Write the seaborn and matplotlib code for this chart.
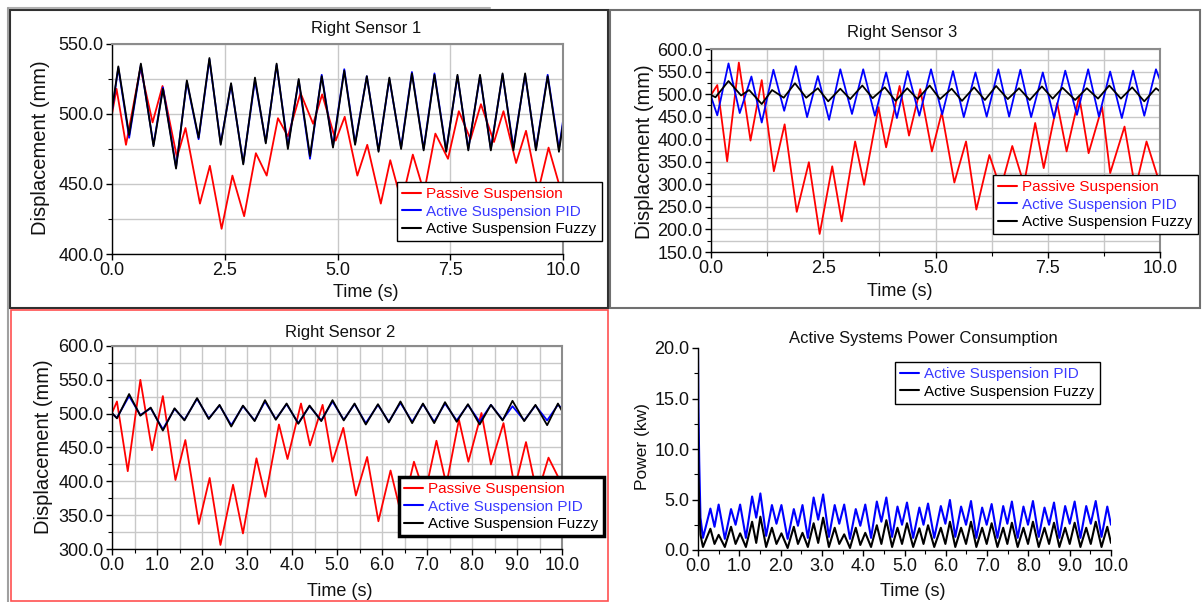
import numpy as np
import pandas as pd
import matplotlib
matplotlib.use("Agg")
import matplotlib.pyplot as plt
import seaborn as sns
from matplotlib.ticker import MultipleLocator, FormatStrFormatter, NullLocator
from matplotlib.patches import Rectangle
from matplotlib.lines import Line2D

# ---------------- data ----------------
# Right Sensor 1
t1_ps = [0.0,0.10,0.31,0.63,0.90,1.12,1.44,1.63,1.95,2.17,2.43,2.67,2.93,3.19,3.43,3.68,3.90,4.18,4.46,4.66,4.96,
         5.16,5.44,5.66,5.96,6.17,6.42,6.67,6.92,7.17,7.45,7.69,7.95,8.18,8.47,8.68,8.96,9.18,9.45,9.68,10.0]
y1_ps = [500,518,478,533,494,520,469,490,436,463,418,456,427,472,456,497,484,515,493,514,481,
         498,456,478,436,467,437,471,444,486,468,502,482,507,480,502,465,488,445,476,440]
t1_ac = [0.0,0.14,0.38,0.64,0.92,1.13,1.42,1.66,1.92,2.16,2.41,2.64,2.91,3.17,3.41,3.65,3.90,4.14,4.39,4.65,4.90,
         5.15,5.39,5.65,5.91,6.15,6.41,6.65,6.91,7.15,7.41,7.66,7.90,8.16,8.40,8.66,8.90,9.16,9.40,9.66,9.91,10.0]
y1_pid = [502,533,483,535,478,519,462,523,482,539,479,521,465,524,480,535,477,524,468,528,477,
          532,479,527,474,525,476,530,475,529,474,527,475,527,475,528,476,528,475,528,475,495]
y1_fz = [503,534,485,536,477,518,461,524,483,540,478,522,464,526,479,536,475,525,470,527,476,
         531,478,527,473,526,475,529,474,528,473,528,474,528,474,529,474,529,474,527,473,493]

# Right Sensor 3
t2_ps = [0.0,0.14,0.36,0.62,0.88,1.13,1.40,1.64,1.91,2.18,2.42,2.70,2.91,3.21,3.41,3.73,3.90,4.20,4.41,4.66,4.92,
         5.14,5.42,5.68,5.91,6.20,6.45,6.71,6.97,7.22,7.41,7.71,7.92,8.20,8.41,8.71,8.89,9.21,9.45,9.70,10.0]
y2_ps = [498,520,351,570,397,531,329,433,239,349,190,340,218,395,299,471,382,518,408,511,373,
         459,304,395,244,365,290,385,300,436,336,480,373,495,369,472,325,428,290,395,300]
t2_pid = [0.0,0.14,0.39,0.64,0.90,1.13,1.39,1.63,1.89,2.14,2.38,2.63,2.88,3.14,3.39,3.65,3.90,4.14,4.38,4.64,4.90,
          5.15,5.39,5.63,5.89,6.14,6.40,6.64,6.89,7.13,7.39,7.64,7.89,8.15,8.40,8.64,8.89,9.15,9.40,9.65,9.91,10.0]
y2_pid = [495,453,568,458,539,437,554,463,562,449,540,443,555,456,555,452,548,447,551,452,555,
          455,551,449,548,450,555,450,554,449,548,447,552,454,555,450,550,447,552,452,555,531]
t2_fz = [0.0,0.10,0.39,0.67,0.85,1.13,1.36,1.62,1.87,2.12,2.38,2.61,2.88,3.10,3.37,3.60,3.87,4.11,4.37,4.60,4.87,
         5.10,5.36,5.59,5.86,6.10,6.35,6.61,6.86,7.10,7.37,7.61,7.83,8.11,8.37,8.62,8.87,9.13,9.38,9.65,9.91,10.0]
y2_fz = [498,493,529,497,509,478,509,492,524,492,513,484,512,489,519,491,515,485,513,489,519,
         489,512,485,515,487,518,489,513,487,517,490,514,487,513,490,519,490,515,484,513,506]

# Right Sensor 2
t3_ps = [0.0,0.11,0.35,0.63,0.89,1.13,1.41,1.63,1.93,2.17,2.41,2.69,2.91,3.21,3.41,3.71,3.90,4.20,4.40,4.68,4.90,
         5.14,5.42,5.67,5.92,6.19,6.43,6.71,6.95,7.21,7.43,7.71,7.92,8.21,8.42,8.70,8.95,9.20,9.45,9.70,10.0]
y3_ps = [501,518,415,550,446,526,402,461,337,405,306,395,323,434,377,484,433,515,453,513,429,
         479,379,436,341,416,350,429,380,460,395,491,429,501,425,486,390,458,380,435,395]
t3_ac = [0.0,0.11,0.38,0.63,0.86,1.13,1.39,1.61,1.89,2.15,2.39,2.65,2.91,3.17,3.40,3.64,3.88,4.14,4.39,4.65,4.90,
         5.15,5.39,5.64,5.91,6.15,6.41,6.67,6.91,7.16,7.40,7.66,7.91,8.17,8.42,8.68,8.90,9.16,9.41,9.67,9.91,10.0]
y3_pid = [500,494,526,498,508,477,507,491,522,493,512,483,511,490,518,492,514,486,511,490,518,
          491,514,486,513,488,516,488,514,488,515,490,513,488,513,491,511,490,512,490,513,508]
y3_fz = [501,493,529,497,509,475,508,490,523,492,513,481,512,489,520,491,515,485,512,489,520,
         490,515,484,514,487,518,486,515,486,517,488,514,484,513,490,519,489,513,483,515,504]

# Active Systems Power Consumption
t4_start = [0.0,0.01,0.03,0.06,0.12]
p4_pid_start = [20.0,14.2,8.7,3.2,1.2]
p4_fz_start = [12.2,8.0,4.5,1.5,0.3]
t4_peak = [0.30,0.50,0.80,1.02,1.31,1.51,1.79,2.02,2.32,2.53,2.80,3.03,3.31,3.54,3.82,4.05,4.33,4.56,4.83,5.06,
           5.36,5.57,5.88,6.10,6.37,6.61,6.88,7.11,7.39,7.60,7.88,8.11,8.39,8.62,8.89,9.12,9.40,9.63,9.91]
t4_trough = [0.40,0.65,0.91,1.16,1.41,1.65,1.90,2.17,2.42,2.66,2.91,3.17,3.42,3.68,3.93,4.19,4.44,4.70,4.94,5.21,
             5.46,5.72,5.99,6.23,6.49,6.74,6.99,7.25,7.49,7.74,7.99,8.25,8.50,8.75,9.00,9.26,9.51,9.77]
p4_pid_peak = [4.1,4.5,4.05,4.5,5.3,5.6,4.45,4.45,4.05,4.45,5.2,5.5,4.45,4.5,4.05,4.5,4.8,5.2,4.3,4.7,
               4.2,4.6,4.35,4.95,4.3,4.85,4.2,4.55,4.35,4.8,4.3,4.85,4.2,4.7,4.35,4.8,4.35,4.85,4.3]
p4_pid_trough = [2.3,1.1,2.5,1.2,3.2,1.4,2.6,1.1,2.4,1.2,3.0,1.3,2.6,1.1,2.4,1.2,2.8,1.3,2.5,1.2,
                 2.5,1.2,2.6,1.3,2.5,1.2,2.5,1.2,2.6,1.2,2.5,1.3,2.5,1.2,2.6,1.2,2.6,1.3]
p4_fz_peak = [2.1,1.5,2.3,1.65,2.8,3.3,2.2,1.65,2.3,1.7,2.65,3.2,2.2,1.55,2.2,1.7,2.45,2.95,2.2,2.65,
              2.15,2.45,2.2,2.8,2.2,2.8,2.2,2.65,2.2,2.7,2.2,2.8,2.2,2.7,2.2,2.7,2.2,2.8,2.3]
p4_fz_trough = [0.6,0.3,0.6,0.3,0.7,0.3,0.6,0.2,0.6,0.3,0.7,0.3,0.6,0.2,0.5,0.3,0.6,0.3,0.6,0.3,
                0.6,0.3,0.6,0.3,0.6,0.3,0.6,0.3,0.6,0.3,0.6,0.3,0.6,0.3,0.6,0.3,0.6,0.3]
t4_end = [10.0]
p4_pid_end = [2.5]
p4_fz_end = [0.7]

labels3 = ["Passive Suspension", "Active Suspension PID", "Active Suspension Fuzzy"]
RED, BLUE, BLACK = "#ff0000", "#0000ff", "#000000"
TXT_BLUE = "#3a3aff"

# ---------------- style ----------------
sns.set_theme(style="white")
plt.rcParams["font.family"] = ["Liberation Sans", "DejaVu Sans"]

W, H = 1202, 602
fig = plt.figure(figsize=(W / 100, H / 100), dpi=100)
fig.patch.set_facecolor("white")


def fx(x):
    return x / W


def fy(y):
    return 1 - y / H


def make_axes(l, t, r, b):
    return fig.add_axes([fx(l), fy(b), (r - l) / W, (b - t) / H])


def style_axes(ax, xlim, ylim, xmaj, xmin, ymaj, ymin, grid=True, box=True):
    ax.set_xlim(*xlim)
    ax.set_ylim(*ylim)
    ax.xaxis.set_major_locator(MultipleLocator(xmaj))
    ax.yaxis.set_major_locator(MultipleLocator(ymaj))
    ax.xaxis.set_minor_locator(MultipleLocator(xmin) if xmin else NullLocator())
    ax.yaxis.set_minor_locator(MultipleLocator(ymin) if ymin else NullLocator())
    ax.xaxis.set_major_formatter(FormatStrFormatter("%.1f"))
    ax.yaxis.set_major_formatter(FormatStrFormatter("%.1f"))
    ax.set_xlabel("")
    ax.set_ylabel("")
    ax.tick_params(axis="both", which="both", bottom=True, left=True, top=False, right=False,
                   direction="out", color="black")
    ax.tick_params(which="major", length=4, width=1, labelsize=13, pad=2, labelcolor="#111111")
    ax.tick_params(which="minor", length=3, width=0.8)
    if grid:
        ax.grid(True, which="both", color="#c8c8c8", lw=1.0)
        ax.set_axisbelow(True)
    else:
        ax.grid(False)
    for s in ("left", "bottom"):
        ax.spines[s].set_color("black")
        ax.spines[s].set_linewidth(1.0)
    for s in ("top", "right"):
        if box:
            ax.spines[s].set_color("#8c8c8c")
            ax.spines[s].set_linewidth(1.5)
        else:
            ax.spines[s].set_visible(False)


def line(ax, t, v, color, label, lw=1.3):
    sns.lineplot(x=t, y=v, ax=ax, color=color, label=label, lw=lw, sort=False, estimator=None)


def legend(ax, x0, y0, text_colors, lw_frame=1.0):
    h, l = ax.get_legend_handles_labels()
    lg = ax.legend(h, l, loc="upper left", bbox_to_anchor=(fx(x0), fy(y0)),
                   bbox_transform=fig.transFigure, fontsize=11, frameon=True, fancybox=False,
                   framealpha=1, edgecolor="black", borderpad=0.35, labelspacing=0.22,
                   handlelength=1.25, handletextpad=0.3, borderaxespad=0)
    lg.get_frame().set_linewidth(lw_frame)
    for txt, c in zip(lg.get_texts(), text_colors):
        txt.set_color(c)
    for ln in lg.get_lines():
        ln.set_linewidth(1.5)
    return lg


def ftext(x, y, s, size, rot=0):
    fig.text(fx(x), fy(y), s, ha="center", va="center", fontsize=size, rotation=rot, color="#111111")


# ---------------- panel frames ----------------
fig.add_artist(Line2D([fx(8), fx(490)], [fy(8), fy(8)], color="#b0b0b0", lw=1.5, transform=fig.transFigure))
fig.add_artist(Rectangle((fx(10), fy(308)), 598 / W, 298 / H, fill=False, ec="#303030", lw=1.5,
                         transform=fig.transFigure))
fig.add_artist(Rectangle((fx(610), fy(308)), 590 / W, 298 / H, fill=False, ec="#707070", lw=1.5,
                         transform=fig.transFigure))
fig.add_artist(Rectangle((fx(11), fy(601)), 597 / W, 291 / H, fill=False, ec="#ff5050", lw=1.2,
                         transform=fig.transFigure))
fig.add_artist(Line2D([fx(8), fx(8)], [fy(8), fy(602)], color="#a0a0a0", lw=1.5, transform=fig.transFigure))

# ---------------- panel 1: Right Sensor 1 ----------------
ax1 = make_axes(112, 44, 563, 254)
line(ax1, t1_ps, y1_ps, RED, labels3[0])
line(ax1, t1_ac, y1_pid, BLUE, labels3[1])
line(ax1, t1_ac, y1_fz, BLACK, labels3[2])
style_axes(ax1, (0, 10), (400, 550), 2.5, None, 50, 25)
legend(ax1, 397, 182, [RED, TXT_BLUE, BLACK])
ftext(366, 28, "Right Sensor 1", 12)
ftext(366, 292, "Time (s)", 13)
ftext(41, 148, "Displacement (mm)", 14.5, rot=90)

# ---------------- panel 2: Right Sensor 3 ----------------
ax2 = make_axes(711, 49, 1160, 252)
line(ax2, t2_ps, y2_ps, RED, labels3[0])
line(ax2, t2_pid, y2_pid, BLUE, labels3[1])
line(ax2, t2_fz, y2_fz, BLACK, labels3[2])
style_axes(ax2, (0, 10), (150, 600), 2.5, 1.25, 50, 25)
legend(ax2, 993, 175, [RED, TXT_BLUE, BLACK])
ftext(902, 33, "Right Sensor 3", 12)
ftext(900, 291, "Time (s)", 13)
ftext(645, 152, "Displacement (mm)", 14.5, rot=90)

# ---------------- panel 3: Right Sensor 2 ----------------
ax3 = make_axes(112, 346, 562, 549)
line(ax3, t3_ps, y3_ps, RED, labels3[0])
line(ax3, t3_ac, y3_pid, BLUE, labels3[1])
line(ax3, t3_ac, y3_fz, BLACK, labels3[2])
style_axes(ax3, (0, 10), (300, 600), 1.0, 0.5, 50, 25)
legend(ax3, 399, 477, [RED, TXT_BLUE, BLACK], lw_frame=2.5)
ftext(340, 333, "Right Sensor 2", 12)
ftext(340, 591, "Time (s)", 13)
ftext(44, 447, "Displacement (mm)", 14.5, rot=90)

# ---------------- panel 4: power ----------------
ax4 = make_axes(698, 348, 1111, 550)
t4 = np.array(t4_start + t4_peak + t4_trough + t4_end)
order = np.argsort(t4)
p_pid = np.array(p4_pid_start + p4_pid_peak + p4_pid_trough + p4_pid_end)[order]
p_fz = np.array(p4_fz_start + p4_fz_peak + p4_fz_trough + p4_fz_end)[order]
t4 = t4[order]
line(ax4, t4, p_pid, BLUE, labels3[1], lw=1.5)
line(ax4, t4, p_fz, BLACK, labels3[2], lw=1.5)
style_axes(ax4, (0, 10), (0, 20), 1.0, 0.5, 5, 2.5, grid=False, box=False)
legend(ax4, 895, 362, [TXT_BLUE, BLACK])
ftext(923, 339, "Active Systems Power Consumption", 12)
ftext(913, 592, "Time (s)", 13)
ftext(643, 447, "Power (kw)", 12.5, rot=90)

fig.savefig("out.png", dpi=100, facecolor="white")
